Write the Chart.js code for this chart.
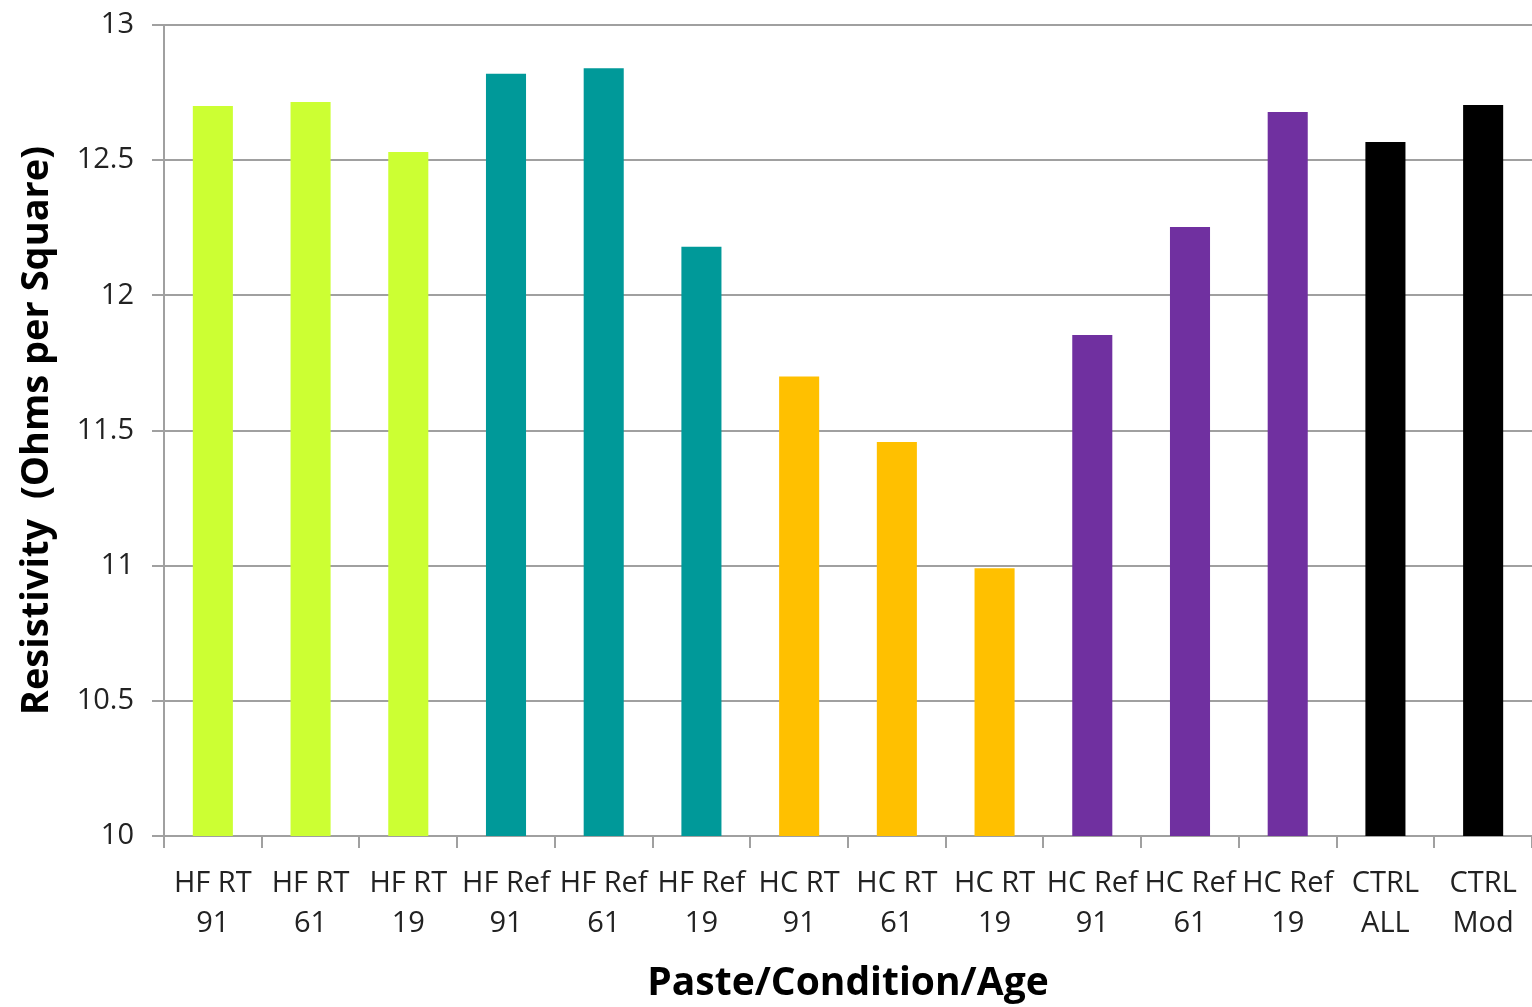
<!DOCTYPE html>
<html>
<head>
<meta charset="utf-8">
<script src="https://cdn.jsdelivr.net/npm/chart.js@4"></script>
<style>
  html, body { margin: 0; padding: 0; background: #fff; }
  #wrap { width: 1532px; height: 1007px; }
</style>
</head>
<body>
<div id="wrap"><canvas id="barChart" width="1532" height="1007"></canvas></div>
<script>
const categories = [
  ["HF RT", "91"], ["HF RT", "61"], ["HF RT", "19"],
  ["HF Ref", "91"], ["HF Ref", "61"], ["HF Ref", "19"],
  ["HC RT", "91"], ["HC RT", "61"], ["HC RT", "19"],
  ["HC Ref", "91"], ["HC Ref", "61"], ["HC Ref", "19"],
  ["CTRL", "ALL"], ["CTRL", "Mod"]
];
const resistivity = [12.70, 12.715, 12.53, 12.82, 12.84, 12.18, 11.70, 11.457, 10.99, 11.853, 12.253, 12.678, 12.567, 12.704];
const barColors = [
  "#CCFF33", "#CCFF33", "#CCFF33",
  "#009999", "#009999", "#009999",
  "#FFC000", "#FFC000", "#FFC000",
  "#7030A0", "#7030A0", "#7030A0",
  "#000000", "#000000"
];

const font = "'Open Sans', 'Liberation Sans', sans-serif";
const ctx = document.getElementById("barChart").getContext("2d");

new Chart(ctx, {
  type: "bar",
  data: {
    labels: categories,
    datasets: [
      {
        data: resistivity,
        backgroundColor: barColors,
        borderWidth: 0,
        barPercentage: 0.41,
        categoryPercentage: 1
      }
    ]
  },
  options: {
    responsive: false,
    animation: false,
    layout: { padding: { top: 25, right: 0, bottom: 0, left: 0 } },
    plugins: { legend: { display: false }, tooltip: { enabled: false } },
    scales: {
      x: {
        offset: true,
        grid: {
          drawOnChartArea: false,
          drawTicks: true,
          tickLength: 12,
          color: "#a0a0a0",
          lineWidth: 2
        },
        border: { color: "#a0a0a0", width: 2 },
        ticks: {
          color: "#222",
          font: { family: font, size: 29, lineHeight: 1.38 },
          padding: 16,
          maxRotation: 0,
          autoSkip: false
        },
        title: {
          display: true,
          text: "Paste/Condition/Age",
          color: "#000",
          font: { family: font, size: 39, weight: "bold" },
          padding: { top: 7, bottom: 0 }
        },
        afterFit: function (scale) {
          scale.height = 171;
          scale.paddingLeft = 0;
          scale.paddingRight = 0;
        }
      },
      y: {
        min: 10,
        max: 13,
        ticks: {
          stepSize: 0.5,
          color: "#222",
          font: { family: font, size: 29 },
          padding: 18,
          callback: function (value) { return String(value); }
        },
        grid: {
          color: "#a0a0a0",
          lineWidth: 2,
          tickLength: 12
        },
        border: { color: "#a0a0a0", width: 2 },
        title: {
          display: true,
          text: "Resistivity  (Ohms per Square)",
          color: "#000",
          font: { family: font, size: 38, weight: "bold" },
          padding: { top: 14, bottom: 0 }
        },
        afterFit: function (scale) {
          scale.width = 164;
          scale.paddingTop = 0;
          scale.paddingBottom = 0;
        }
      }
    }
  }
});
</script>
</body>
</html>
